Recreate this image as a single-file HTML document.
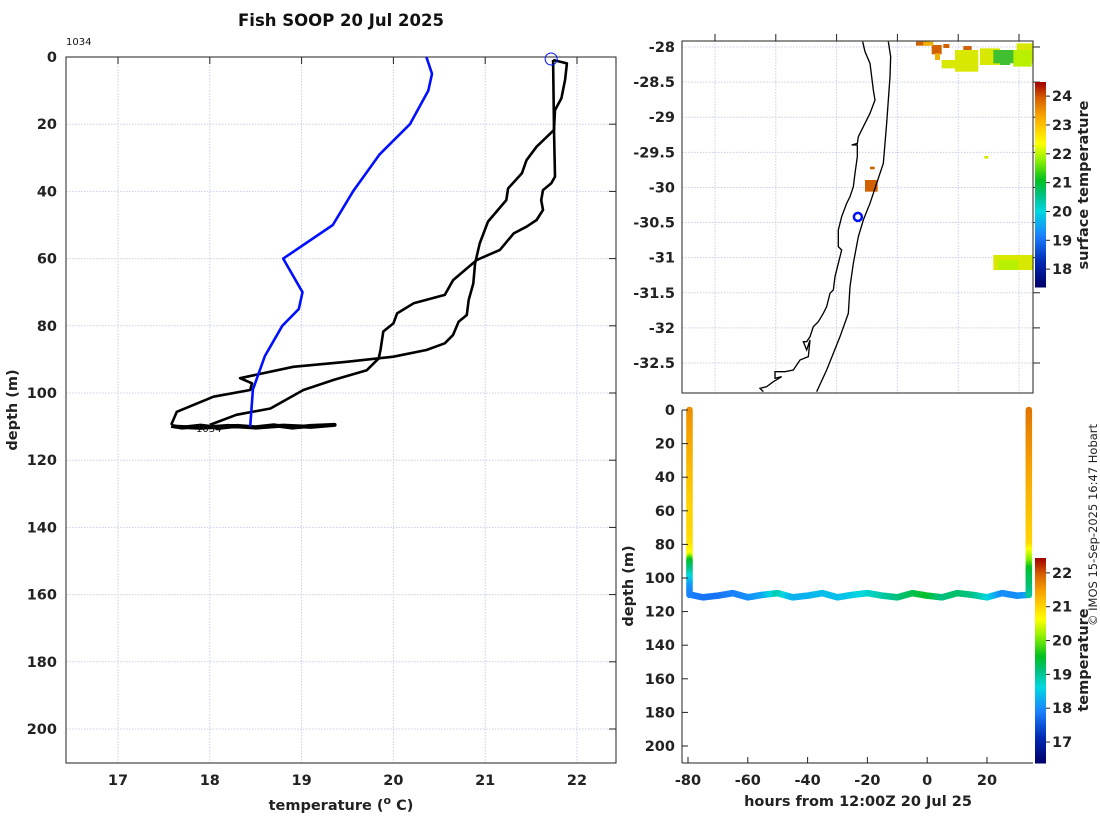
<!DOCTYPE html>
<html><head><meta charset="utf-8"><style>
html,body{margin:0;padding:0;background:#fff;}
svg{display:block;font-family:"DejaVu Sans","Liberation Sans",sans-serif;}
.b{font-weight:bold;font-size:14.5px;fill:#222;}
</style></head>
<body>
<svg id="s" width="1100" height="820" viewBox="0 0 1100 820" xmlns="http://www.w3.org/2000/svg">
<rect width="1100" height="820" fill="#fff"/>
<text x="341" y="26" text-anchor="middle" font-weight="bold" font-size="16.5" fill="#111">Fish SOOP 20 Jul 2025</text>
<text x="66" y="45" font-size="10" fill="#111">1034</text>
<g id="left"></g>
<g id="map"></g>
<g id="br"></g>
<text transform="translate(1097,525) rotate(-90)" text-anchor="middle" font-size="11.5" fill="#222">© IMOS 15-Sep-2025 16:47 Hobart</text>
</svg>
<script>
// ---- profile data ----
const blueTemp=[20.36,20.42,20.38,20.18,19.85,19.56,19.34,18.80,19.01,18.97,18.79,18.60,18.47,18.44];
const blueDepth=[0,5,10,20,29,40,50,60,70,75,80,89,99,110];
const cast1Temp=[21.74,21.89,21.87,21.83,21.76,21.75,21.56,21.45,21.40,21.25,21.23,21.03,20.94,20.89,20.87,20.82,20.80,20.71,20.65,20.56,20.36,20.00,19.49,18.91,18.33,18.46,18.44,18.04,17.64,17.58];
const cast1Depth=[0.9,1.9,6.8,12.3,15.8,21.7,26.7,30.7,34.6,39.1,42.6,49.0,55.5,61.4,67.4,72.3,76.8,78.8,82.7,85.2,87.2,89.2,90.7,92.2,95.6,97.1,99.1,101.1,105.6,109.5];
const cast2Temp=[21.74,21.75,21.76,21.72,21.63,21.61,21.63,21.56,21.45,21.31,21.16,20.91,20.65,20.56,20.22,20.04,20.00,19.89,19.86,19.84,19.71,19.35,19.02,18.66,18.29,18.00];
const cast2Depth=[0.9,21.7,35.6,37.6,39.6,42.6,45.5,48.5,50.5,52.5,57.4,60.4,66.4,70.8,73.3,76.3,79.3,81.7,87.2,89.7,93.2,96.1,99.1,104.6,106.5,109.5];
const bottomTemp=[17.58,17.70,17.90,18.10,18.30,18.50,18.70,18.90,19.10,19.36,19.10,18.80,18.50,18.20,17.90,17.62];
const bottomDepth=[109.8,110.3,109.7,110.4,109.8,110.2,109.6,110.3,109.8,109.5,110.1,109.7,110.3,109.8,110.4,110.0];
const xTicksL=[17,18,19,20,21,22];
const yTicksL=[0,20,40,60,80,100,120,140,160,180,200];
// ---- time-depth data ----
const leftCastDepth=[0,10,20,30,40,50,60,70,80,86,90,95,100,105,110];
const leftCastTemp=[21.6,21.5,21.4,21.3,21.2,21.1,21.0,21.0,20.9,20.6,19.5,19.1,18.6,18.1,17.9];
const leftCastHour=-79.5;
const rightCastDepth=[0,10,20,30,40,50,60,70,80,85,90,95,100,105,110];
const rightCastTemp=[21.8,21.7,21.6,21.5,21.4,21.3,21.2,21.1,21.0,20.5,20.1,19.5,19.3,19.2,19.0];
const rightCastHour=34;
const trackHour=[-79,-75,-70,-65,-60,-55,-50,-45,-40,-35,-30,-25,-20,-15,-10,-5,0,5,10,15,20,25,30,34];
const trackDepth=[110,111.5,110.5,109,111.5,110,109,111.5,110.5,109,111.5,110,109,110.5,111.5,109,110.5,111.5,109,110,111.5,109,110.5,110];
const trackTemp=[17.9,17.8,17.8,17.9,18.0,18.2,18.9,18.3,18.3,18.4,18.4,18.5,18.7,18.9,19.1,19.3,19.5,19.1,19.2,19.1,18.7,18.0,18.0,18.2];
const xTicksBR=[-80,-60,-40,-20,0,20];
const yTicksBR=[0,20,40,60,80,100,120,140,160,180,200];
const cbTopTicks=[18,19,20,21,22,23,24];
const cbBotTicks=[17,18,19,20,21,22];
const lonTicks=[151,152,153,154,155,156];
const latTicks=[-28,-28.5,-29,-29.5,-30,-30.5,-31,-31.5,-32,-32.5];
const shipLon=153.35, shipLat=-30.42;

const NS="http://www.w3.org/2000/svg";
function mk(p,t,a){const e=document.createElementNS(NS,t);for(const k in a)e.setAttribute(k,a[k]);p.appendChild(e);return e;}
const xT=t=>118+(t-17)*91.8, yD=d=>57+d*3.36;
const xLon=l=>715+(l-151)*60.8, yLat=l=>47+(-28-l)*70.22;
const xH=h=>688+(h+80)*2.99, yB=d=>410+d*1.68;
const stops=[[0,[0,0,106]],[0.12,[0,40,176]],[0.25,[26,128,255]],[0.37,[0,216,224]],[0.45,[0,192,128]],[0.52,[0,192,32]],[0.62,[144,240,0]],[0.7,[255,255,0]],[0.77,[255,208,0]],[0.84,[245,160,0]],[0.92,[216,96,0]],[1,[160,0,0]]];
function cmap(f){f=Math.max(0,Math.min(1,f));for(let i=1;i<stops.length;i++){if(f<=stops[i][0]){const a=stops[i-1],b=stops[i],u=(f-a[0])/(b[0]-a[0]);const c=a[1].map((v,j)=>Math.round(v+(b[1][j]-v)*u));return `rgb(${c})`;}}return 'rgb(160,0,0)';}

// ===== LEFT PANEL =====
const L=document.getElementById('left');
xTicksL.forEach(t=>{const g=mk(L,'line',{x1:xT(t),x2:xT(t),y1:57,y2:763,stroke:'#c8cfe8','stroke-dasharray':'1.5,1.5','stroke-width':1});

const tk=mk(L,'line',{x1:xT(t),x2:xT(t),y1:57,y2:64,stroke:'#222'});
const tx=mk(L,'text',{x:xT(t),y:785,'text-anchor':'middle',class:'b'});tx.textContent=t;});
yTicksL.forEach(d=>{if(d>0){const g=mk(L,'line',{x1:66,x2:616,y1:yD(d),y2:yD(d),stroke:'#c8cfe8','stroke-dasharray':'1.5,1.5'});}
const tk=mk(L,'line',{x1:609,x2:616,y1:yD(d),y2:yD(d),stroke:'#222'});
const tx=mk(L,'text',{x:57,y:yD(d)+5,'text-anchor':'end',class:'b'});tx.textContent=d;});
const fr=mk(L,'rect',{x:66,y:57,width:550,height:706,fill:'none',stroke:'#222','stroke-width':1});
function line(par,xs,ys,fx,fy,attrs,name){const d=xs.map((v,i)=>(i?'L':'M')+fx(v).toFixed(1)+','+fy(ys[i]).toFixed(1)).join('');const p=mk(par,'path',Object.assign({d:d,fill:'none'},attrs));return p;}
line(L,bottomTemp,bottomDepth,xT,yD,{stroke:'#000','stroke-width':4,'stroke-linejoin':'round'},'bottom-trace');
line(L,cast1Temp,cast1Depth,xT,yD,{stroke:'#000','stroke-width':2.6,'stroke-linejoin':'round'},'cast-1-line');
line(L,cast2Temp,cast2Depth,xT,yD,{stroke:'#000','stroke-width':2.6,'stroke-linejoin':'round'},'cast-2-line');
line(L,blueTemp,blueDepth,xT,yD,{stroke:'#0010ff','stroke-width':2.6,'stroke-linejoin':'round'},'climatology-line');
const sc=mk(L,'circle',{cx:xT(cast1Temp[0])-2,cy:yD(0)+2,r:6,fill:'none',stroke:'#0010ff','stroke-width':1});
const sl=mk(L,'text',{x:196,y:432,'font-size':10,fill:'#111'});sl.textContent='1034';
const yl=mk(L,'text',{transform:'translate(17,410) rotate(-90)','text-anchor':'middle',class:'b','font-size':16});yl.textContent='depth (m)';
const xl=mk(L,'text',{x:341,y:810,'text-anchor':'middle',class:'b','font-size':16});xl.innerHTML='temperature (<tspan dy="-6" font-size="11">o</tspan><tspan dy="6"> C)</tspan>';

// ===== MAP =====
const M=document.getElementById('map');
lonTicks.forEach(l=>{const g=mk(M,'line',{x1:xLon(l),x2:xLon(l),y1:41,y2:393,stroke:'#c8cfe8','stroke-dasharray':'1.5,1.5'});
const tk=mk(M,'line',{x1:xLon(l),x2:xLon(l),y1:34,y2:41,stroke:'#222'});
const tx=mk(M,'text',{x:xLon(l),y:419,'text-anchor':'middle',class:'b'});tx.textContent=l;});
latTicks.forEach(l=>{const g=mk(M,'line',{x1:682,x2:1033,y1:yLat(l),y2:yLat(l),stroke:'#c8cfe8','stroke-dasharray':'1.5,1.5'});
const tk=mk(M,'line',{x1:1033,x2:1040,y1:yLat(l),y2:yLat(l),stroke:'#222'});
const tx=mk(M,'text',{x:675,y:yLat(l)+5,'text-anchor':'end',class:'b'});tx.textContent=l;});
const Z=mk(M,'g',{transform:'translate(620,30) scale(0.33333)'});
const patches=[['#d06000',[[888,35,40,12],[935,45,30,28],[970,42,18,12],[1030,48,25,15],[735,450,38,35],[750,410,14,8]]],['#f0b000',[[910,35,30,12],[945,70,15,20]]],['#d8e800',[[965,90,80,25],[1005,60,70,65],[1080,55,60,50],[1190,40,50,60],[1120,675,120,45],[1093,378,12,8],[1237,345,6,6]]],['#40c030',[[1120,60,70,40],[1140,85,30,20]]],['#b8f000',[[1180,60,55,50],[1135,690,60,30]]]];
patches.forEach(p=>p[1].forEach(r=>{const e=mk(Z,'rect',{x:r[0],y:r[1],width:r[2],height:r[3],fill:p[0]});}));
const coast=mk(Z,'path',{d:'M728,35 L735,65 750,100 760,180 765,210 750,250 735,280 715,320 712,340 695,345 712,345 712,380 705,430 700,470 690,500 680,520 665,560 655,600 655,650 665,660 655,700 645,740 640,780 630,790 620,830 610,850 595,875 580,890 570,920 560,935 550,935 560,960 570,930 565,980 540,990 520,1020 495,1025 465,1025 465,1045 485,1040 460,1055 440,1070 420,1075 430,1085',fill:'none',stroke:'#000','stroke-width':4});
const shelf=mk(Z,'path',{d:'M805,35 L812,80 810,140 800,280 790,400 770,460 750,520 730,570 715,620 700,700 690,770 685,850 660,920 620,1020 590,1085',fill:'none',stroke:'#000','stroke-width':4});
const ship=mk(M,'circle',{cx:xLon(shipLon),cy:yLat(shipLat),r:4,fill:'none',stroke:'#0010ff','stroke-width':2.5});
const mf=mk(M,'rect',{x:682,y:41,width:351,height:352,fill:'none',stroke:'#222'});
// colorbar top
const cbT0=17.38,cbT1=24.49,cbTy=v=>287-(v-cbT0)/(cbT1-cbT0)*205;
for(let i=0;i<205;i++){const r=mk(M,'rect',{x:1035,y:287-i-1,width:11,height:1.5,fill:cmap(i/205)});}
cbTopTicks.forEach(v=>{const tk=mk(M,'line',{x1:1046,x2:1050,y1:cbTy(v),y2:cbTy(v),stroke:'#222'});
const tx=mk(M,'text',{x:1052,y:cbTy(v)+5,class:'b','font-size':13.5});tx.textContent=v;});
const ct=mk(M,'text',{transform:'translate(1088,185) rotate(-90)','text-anchor':'middle',class:'b','font-size':14});ct.textContent='surface temperature';

// ===== BOTTOM RIGHT =====
const B=document.getElementById('br');
const wb=mk(B,'rect',{x:676,y:408,width:362,height:360,fill:'#fff'});
function dots(hs,ds,ts){const pts=[];for(let i=0;i<hs.length-1;i++){const n=Math.max(2,Math.ceil(Math.hypot(xH(hs[i+1])-xH(hs[i]),yB(ds[i+1])-yB(ds[i]))/1.5));for(let k=0;k<n;k++){const u=k/n;pts.push([hs[i]+(hs[i+1]-hs[i])*u,ds[i]+(ds[i+1]-ds[i])*u,ts[i]+(ts[i+1]-ts[i])*u]);}}pts.push([hs[hs.length-1],ds[ds.length-1],ts[ts.length-1]]);
pts.forEach(p=>{const c=mk(B,'circle',{cx:xH(p[0]),cy:yB(p[1]),r:3.3,fill:cmap((p[2]-16.38)/(22.44-16.38))});});}
dots(leftCastDepth.map(()=>leftCastHour),leftCastDepth,leftCastTemp);
dots(trackHour,trackDepth,trackTemp);
dots(rightCastDepth.map(()=>rightCastHour),rightCastDepth,rightCastTemp);
xTicksBR.forEach(h=>{const tk=mk(B,'line',{x1:xH(h),x2:xH(h),y1:763,y2:757,stroke:'#222'});
const tx=mk(B,'text',{x:xH(h),y:785,'text-anchor':'middle',class:'b'});tx.textContent=h;});
yTicksBR.forEach(d=>{const tk=mk(B,'line',{x1:682,x2:688,y1:yB(d),y2:yB(d),stroke:'#222'});
const tx=mk(B,'text',{x:675,y:yB(d)+5,'text-anchor':'end',class:'b'});tx.textContent=d;});
const bl=mk(B,'line',{x1:682,x2:682,y1:410,y2:763,stroke:'#222'});
const bb=mk(B,'line',{x1:682,x2:1033,y1:763,y2:763,stroke:'#222'});
const cbB0=16.38,cbB1=22.44,cbBy=v=>763-(v-cbB0)/(cbB1-cbB0)*205;
for(let i=0;i<205;i++){const r=mk(B,'rect',{x:1035,y:763-i-1,width:11,height:1.5,fill:cmap(i/205)});}
cbBotTicks.forEach(v=>{const tk=mk(B,'line',{x1:1046,x2:1050,y1:cbBy(v),y2:cbBy(v),stroke:'#222'});
const tx=mk(B,'text',{x:1052,y:cbBy(v)+5,class:'b','font-size':13.5});tx.textContent=v;});
const bt=mk(B,'text',{transform:'translate(1088,660) rotate(-90)','text-anchor':'middle',class:'b','font-size':14});bt.textContent='temperature';
const by=mk(B,'text',{transform:'translate(633,586) rotate(-90)','text-anchor':'middle',class:'b','font-size':16});by.textContent='depth (m)';
const bx=mk(B,'text',{x:858,y:806,'text-anchor':'middle',class:'b','font-size':16});bx.textContent='hours from 12:00Z 20 Jul 25';
</script>
</body></html>
